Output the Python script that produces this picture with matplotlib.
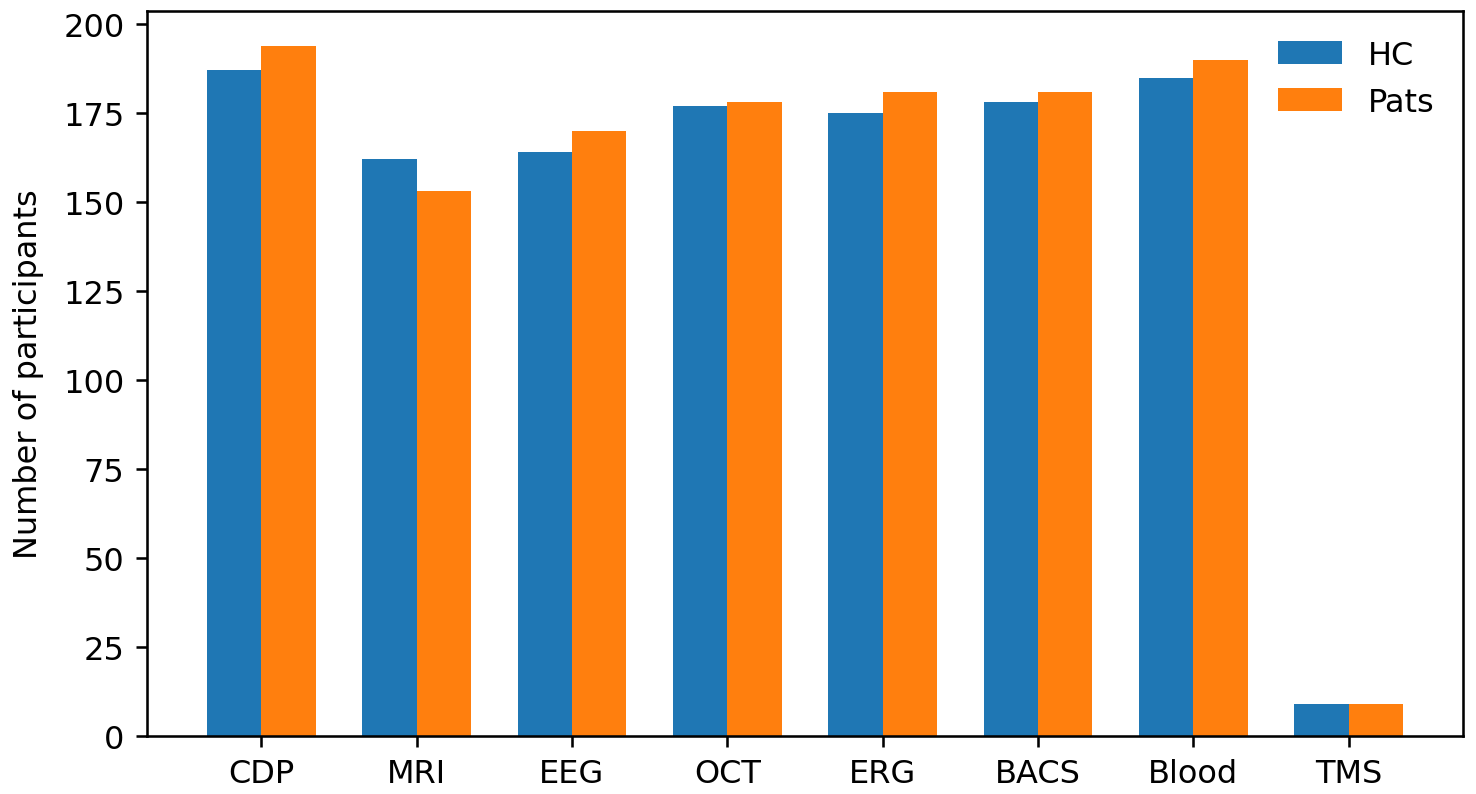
import numpy as np
import matplotlib.pyplot as plt

# participants per modality
modalities = ["CDP", "MRI", "EEG", "OCT", "ERG", "BACS", "Blood", "TMS"]
hc = [187, 162, 164, 177, 175, 178, 185, 9]
pats = [194, 153, 170, 178, 181, 181, 190, 9]

x = np.arange(len(modalities))
width = 0.35

# default-ish mpl figure, just rendered at a high dpi
fig = plt.figure(figsize=(6.4, 3.4447), dpi=230.78)
ax = fig.add_axes([147/1477, 58/795, (1463-147)/1477, (737-12)/795])

ax.bar(x - width/2, hc, width, label="HC")
ax.bar(x + width/2, pats, width, label="Pats")

ax.set_xticks(x)
ax.set_xticklabels(modalities)
ax.set_ylabel("Number of participants", labelpad=6)
ax.legend(frameon=False, loc="upper right")

fig.savefig("out.png", dpi=230.78)
